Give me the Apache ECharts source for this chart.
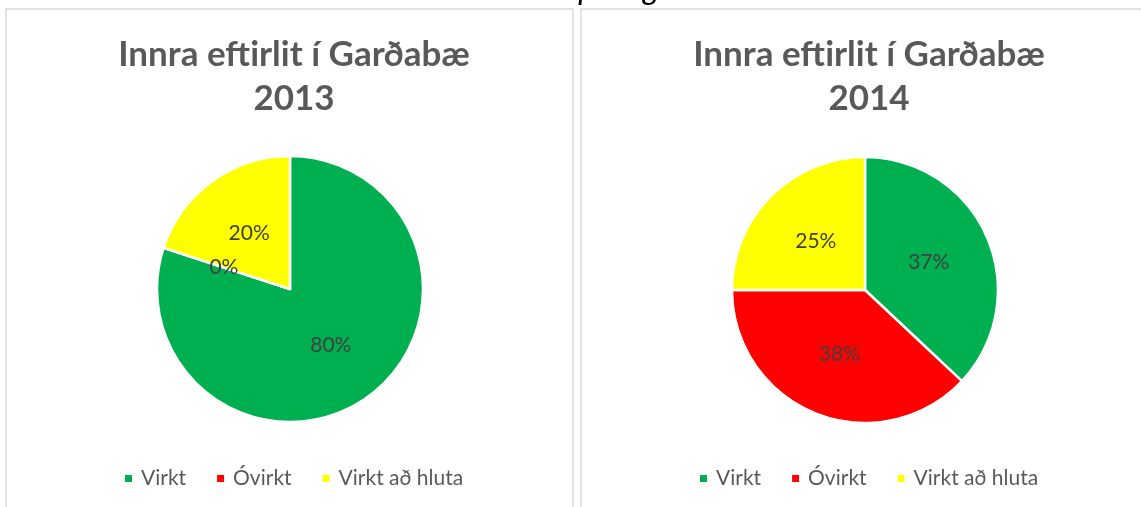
<!DOCTYPE html>
<html>
<head>
<meta charset="utf-8">
<script src="https://cdn.jsdelivr.net/npm/echarts@6/dist/echarts.min.js"></script>
<style>
  html, body { margin: 0; padding: 0; background: #fff; }
  #chart { width: 1141px; height: 507px; }
</style>
</head>
<body>
<div id="chart"></div>
<script>
// flokkar og gildi
var flokkar = ['Virkt', 'Óvirkt', 'Virkt að hluta'];
var gildi2013 = [80, 0, 20];
var gildi2014 = [37, 38, 25];
var litir = ['#00b050', '#ff0000', '#ffff00'];
var titlar = ['Innra eftirlit í Garðabæ\n2013', 'Innra eftirlit í Garðabæ\n2014'];

var myChart = echarts.init(document.getElementById('chart'));

function gogn(gildi) {
  return flokkar.map(function (n, i) {
    return { name: n, value: gildi[i], itemStyle: { color: litir[i] } };
  });
}

function sneid(gildi, midja) {
  return {
    type: 'pie',
    center: midja,
    radius: 133,
    startAngle: 90,
    clockwise: true,
    animation: false,
    avoidLabelOverlap: false,
    itemStyle: { borderColor: '#fff', borderWidth: 2.5 },
    label: {
      show: true,
      position: 'inner',
      formatter: '{d}%',
      color: '#404040',
      fontFamily: 'Lato',
      fontSize: 21
    },
    labelLine: { show: false },
    emphasis: { scale: false },
    data: gogn(gildi)
  };
}

function titill(texti, x) {
  return {
    text: texti,
    left: x,
    top: 28,
    textAlign: 'center',
    textStyle: {
      fontFamily: 'Lato',
      fontWeight: 'bold',
      fontSize: 35,
      lineHeight: 44,
      color: '#595959'
    }
  };
}

function skyring(x) {
  return {
    left: x,
    top: 463,
    icon: 'rect',
    itemWidth: 9,
    itemHeight: 9,
    itemGap: 29,
    textStyle: {
      fontFamily: 'Lato',
      fontSize: 21,
      color: '#595959',
      padding: [0, 0, 0, 3]
    },
    data: flokkar
  };
}

var option = {
  backgroundColor: '#fff',
  title: [titill(titlar[0], 289), titill(titlar[1], 864)],
  legend: [skyring(118), skyring(693)],
  graphic: [
    { type: 'rect', shape: { x: 6, y: 9, width: 567, height: 520 },
      style: { fill: 'none', stroke: '#d9d9d9', lineWidth: 1.5 }, z: -1 },
    { type: 'rect', shape: { x: 581, y: 9, width: 600, height: 520 },
      style: { fill: 'none', stroke: '#d9d9d9', lineWidth: 1.5 }, z: -1 },
    { type: 'text', left: 543, top: -27,
      style: { text: 'Kópavogs.', font: 'italic 32px Lato', fill: '#000' } }
  ],
  series: [
    sneid(gildi2013, [290, 289]),
    sneid(gildi2014, [865, 290])
  ]
};

myChart.setOption(option);
</script>
</body>
</html>
